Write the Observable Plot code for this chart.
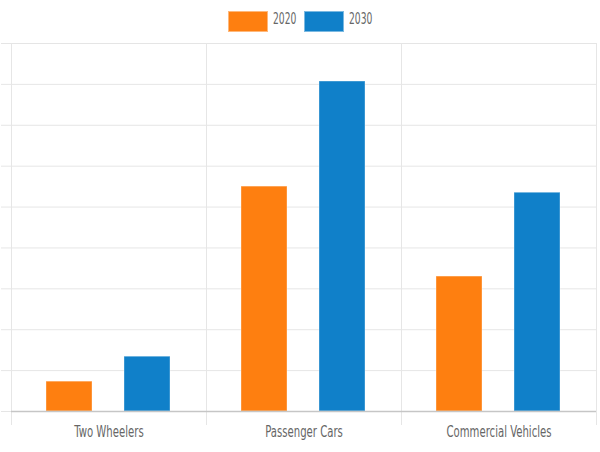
<!DOCTYPE html>
<html><head><meta charset="utf-8">
<script src="https://cdn.jsdelivr.net/npm/d3@7"></script>
<script src="https://cdn.jsdelivr.net/npm/@observablehq/plot@0.6"></script>
<style>
body{margin:0;background:#fff;font-family:"DejaVu Sans",sans-serif;font-stretch:condensed;}
#legend{height:42px;display:flex;justify-content:center;align-items:center;font-size:15px;color:#666;font-stretch:condensed;}
.item{display:flex;align-items:center;margin:0 4px 0 4px;}
.sw{width:38px;height:19px;margin-right:5px;border:1px solid rgba(255,255,255,0.45);box-sizing:content-box;}
.lab{display:inline-block;transform:scaleX(0.68);transform-origin:left center;white-space:nowrap;position:relative;top:-2px;}
svg text{font-stretch:condensed;}
</style></head><body>
<div id="legend"></div><div id="chart"></div>
<script>
const categories = ["Two Wheelers", "Passenger Cars", "Commercial Vehicles"];
const years = ["2020", "2030"];
const values2020 = [0.73, 5.5, 3.3];
const values2030 = [1.34, 8.07, 5.35];
const colors = ["#fe7f10", "#1080c9"];
const yTicks = d3.range(0, 10);

const series = [values2020, values2030];
const rows = categories.flatMap((c, i) => years.map((y, j) => ({category: c, year: y, value: series[j][i]})));

const legend = d3.select("#legend");
years.forEach((y, j) => {
  const it = legend.append("div").attr("class", "item");
  it.append("div").attr("class", "sw").style("background", colors[j]);
  const s = it.append("span").attr("class", "lab").text(y);
  const w = s.node().offsetWidth;
  s.style("margin-right", (-w * 0.32) + "px");
});

const chart = Plot.plot({
  width: 600,
  height: 410,
  marginLeft: 10,
  marginRight: 3,
  marginTop: 1,
  marginBottom: 41,
  style: {fontFamily: '"DejaVu Sans",sans-serif', fontStretch: "condensed", background: "#fff"},
  fx: {domain: categories, padding: 0, axis: null, label: null},
  x: {domain: years, paddingInner: 0.405, paddingOuter: 0.443, axis: null, label: null},
  y: {domain: [0, 9], axis: null, label: null},
  color: {domain: years, range: colors},
  marks: [
    Plot.gridY(yTicks, {stroke: "#000", strokeOpacity: 0.1}),
    Plot.axisY(yTicks, {tickSize: 10, tickFormat: () => "", label: null, stroke: "#000", strokeOpacity: 0.1}),
    Plot.frame({anchor: "left", stroke: "#e6e6e6", strokeOpacity: 1, insetBottom: -13}),
    Plot.frame({anchor: "right", stroke: "#e6e6e6", strokeOpacity: 1, insetBottom: -13}),
    Plot.barY(rows, {fx: "category", x: "year", y: "value", fill: "year", stroke: "#fff", strokeOpacity: 0.35, strokeWidth: 1, inset: 0}),
    Plot.ruleY([0], {stroke: "#c6c6c6", strokeWidth: 1.5}),
    Plot.axisFx({anchor: "bottom", tickSize: 0, tickPadding: 15, fontSize: 15, fill: "#666", label: null})
  ]
});
d3.select(chart).selectAll("g[aria-label^='fx-axis'] text").each(function() {
  const t = this.getAttribute("transform") || "";
  this.setAttribute("transform", t + " scale(0.75,1)");
});
document.getElementById("chart").appendChild(chart);
</script>
</body></html>
